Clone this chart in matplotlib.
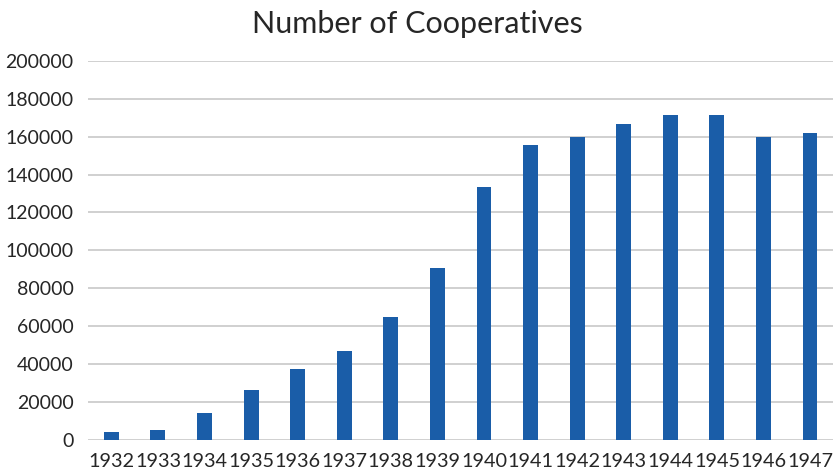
import matplotlib
matplotlib.use("Agg")
import matplotlib.pyplot as plt

years = ["1932", "1933", "1934", "1935", "1936", "1937", "1938", "1939",
         "1940", "1941", "1942", "1943", "1944", "1945", "1946", "1947"]
cooperatives = [3800, 5000, 14200, 26000, 37000, 46800, 64500, 90800,
                133500, 155500, 160000, 166500, 171500, 171500, 160000, 161800]
y_ticks = list(range(0, 200001, 20000))

plt.rcParams["font.family"] = ["Lato", "DejaVu Sans"]

fig = plt.figure(figsize=(8.35, 4.75), dpi=100)
ax = fig.add_axes([0.1054, 0.0747, 0.8926, 0.797])

x = list(range(len(years)))
ax.bar(x, cooperatives, width=0.32, color="#1A5DA8", zorder=3)

ax.set_xlim(-0.5, len(years) - 0.5)
ax.set_ylim(0, 200000)
ax.set_yticks(y_ticks)
ax.set_yticklabels([str(v) for v in y_ticks])
ax.set_xticks(x)
ax.set_xticklabels(years)

ax.grid(axis="y", color="#D0D0D0", linewidth=1.4, zorder=0)
for side in ("top", "right", "left", "bottom"):
    ax.spines[side].set_visible(False)
ax.tick_params(axis="both", length=0, colors="#262626")
ax.tick_params(axis="y", pad=10.5, labelsize=14)
ax.tick_params(axis="x", pad=10, labelsize=14.3)

fig.text(0.5, 0.949, "Number of Cooperatives", ha="center", va="center",
         fontsize=22, color="#262626")

fig.savefig("out.png", dpi=100, facecolor="white")
